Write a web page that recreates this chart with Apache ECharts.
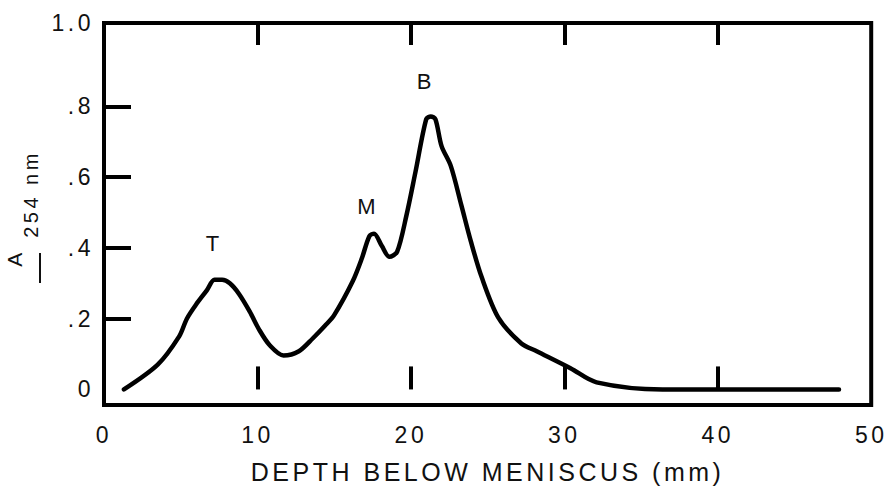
<!DOCTYPE html>
<html>
<head>
<meta charset="utf-8">
<script src="https://cdn.jsdelivr.net/npm/echarts@6/dist/echarts.min.js"></script>
<style>
  html, body { margin: 0; padding: 0; background: #fff; }
  #chart { width: 887px; height: 489px; }
  #chart text { letter-spacing: 3.5px; }
</style>
</head>
<body>
<div id="chart"></div>
<script>
// depth below meniscus (mm) and absorbance
const depth = [1.3, 3.5, 4.9, 5.4, 6.0, 6.7, 7.2, 7.7, 8.2, 8.8, 9.5, 10.1, 10.8, 11.7, 12.7, 13.6, 14.4, 15.0, 16.2, 16.8, 17.3, 17.6, 18.1, 18.6, 19.1, 19.7, 20.3, 21.0, 21.3, 21.6, 22.0, 22.6, 23.3, 23.9, 24.6, 25.7, 27.2, 28.2, 30.4, 32.1, 36.4, 47.9]
const absorb = [0.0, 0.07, 0.15, 0.20, 0.24, 0.28, 0.31, 0.31, 0.30, 0.27, 0.22, 0.17, 0.125, 0.096, 0.108, 0.144, 0.18, 0.21, 0.305, 0.37, 0.434, 0.44, 0.406, 0.375, 0.389, 0.49, 0.615, 0.764, 0.772, 0.764, 0.688, 0.632, 0.519, 0.42, 0.319, 0.203, 0.13, 0.108, 0.06, 0.02, 0.0, 0.0]

const peakNames = ['T', 'M', 'B']
const peakDepth = [7.7, 17.6, 21.3]
const peakAbs = [0.31, 0.44, 0.772]
const peakLabelOffset = [[-8, -36], [-6, -27], [-5, -35]]

const xTicks = [10, 20, 30, 40]
const xLabels = [0, 10, 20, 30, 40, 50]
const yTicks = [0.2, 0.4, 0.6, 0.8]
const yMin = -0.044
const yMax = 1.036
const yLabels = [0, 0.2, 0.4, 0.6, 0.8, yMax]

const font = 'Liberation Sans, Arial, sans-serif'

const chart = echarts.init(document.getElementById('chart'), null, { renderer: 'svg' })

const option = {
  animation: false,
  backgroundColor: '#fff',
  grid: {
    left: 104, right: 12, top: 23, bottom: 82,
    show: true, borderColor: '#000', borderWidth: 4
  },
  xAxis: [{
    type: 'value',
    min: 0, max: 50,
    position: 'bottom',
    name: 'DEPTH BELOW MENISCUS (mm)',
    nameLocation: 'middle',
    nameGap: 54,
    nameTextStyle: { fontFamily: font, fontSize: 25, color: '#111' },
    axisLine: { show: false },
    splitLine: { show: false },
    axisTick: { show: true, inside: true, length: 23, customValues: xTicks, lineStyle: { color: '#000', width: 4 } },
    axisLabel: { customValues: xLabels, margin: 18, fontFamily: font, fontSize: 23, color: '#111' }
  }, {
    type: 'value',
    min: 0, max: 50,
    position: 'top',
    axisLine: { show: false },
    splitLine: { show: false },
    axisTick: { show: true, inside: true, length: 22, customValues: xTicks, lineStyle: { color: '#000', width: 4 } },
    axisLabel: { show: false }
  }],
  yAxis: {
    type: 'value',
    min: yMin, max: yMax,
    axisLine: { show: false },
    splitLine: { show: false },
    axisTick: { show: true, inside: true, length: 27, customValues: yTicks, lineStyle: { color: '#000', width: 4 } },
    axisLabel: {
      customValues: yLabels,
      margin: 10,
      fontFamily: font, fontSize: 23, color: '#111',
      formatter: function (v) {
        if (v > 0.99) return '1.0'
        if (v === 0) return '0'
        return v.toFixed(1).replace(/^0/, '')
      }
    }
  },
  graphic: [
    { type: 'text', x: 14, y: 258, rotation: Math.PI / 2, style: { text: 'A', font: '21px ' + font, fill: '#111', align: 'center', verticalAlign: 'middle' } },
    { type: 'text', x: 31, y: 194, rotation: Math.PI / 2, style: { text: '254 nm', font: '20px ' + font, fill: '#111', align: 'center', verticalAlign: 'middle' } },
    { type: 'rect', shape: { x: 39, y: 253, width: 2, height: 30 }, style: { fill: '#111' } }
  ],
  series: [{
    type: 'line',
    xAxisIndex: 0,
    data: depth.map((d, i) => [d, absorb[i]]),
    showSymbol: false,
    smooth: 0.3,
    lineStyle: { color: '#000', width: 4.5, cap: 'round', join: 'round' },
    markPoint: {
      symbol: 'circle',
      symbolSize: 1,
      itemStyle: { color: 'rgba(0,0,0,0)' },
      label: { show: true, position: 'inside', formatter: '{b}', fontFamily: font, fontSize: 22, color: '#111' },
      data: peakNames.map((n, i) => ({
        name: n,
        coord: [peakDepth[i], peakAbs[i]],
        label: { offset: peakLabelOffset[i] }
      }))
    }
  }]
}

chart.setOption(option)
</script>
</body>
</html>
